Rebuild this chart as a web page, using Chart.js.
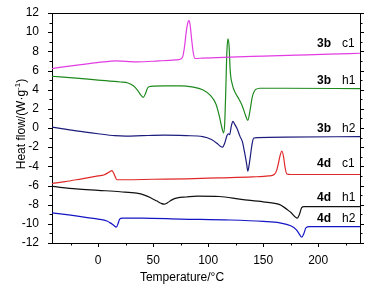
<!DOCTYPE html>
<html>
<head>
<meta charset="utf-8">
<script src="https://cdn.jsdelivr.net/npm/chart.js@4.4.1/dist/chart.umd.min.js"></script>
<style>
  html, body { margin: 0; padding: 0; background: #fff; }
  #wrap { width: 377px; height: 289px; }
</style>
</head>
<body>
<div id="wrap"><canvas id="dsc" width="377" height="289"></canvas></div>
<script>
// tick labels
const xTicks = [0, 50, 100, 150, 200];
const yTicks = [-12, -10, -8, -6, -4, -2, 0, 2, 4, 6, 8, 10, 12];

// 3b c1
const c1bX = [-42, -30, -10, 5, 15, 35, 55, 70, 75, 77, 78.5, 80, 81.5, 82.5, 83.5, 85, 86.5, 88, 95, 120, 150, 180, 210, 238];
const c1bY = [6.2, 6.4, 6.7, 6.9, 7.0, 6.9, 7.0, 7.1, 7.2, 7.5, 8.5, 10.0, 11.0, 11.2, 10.8, 9.2, 7.8, 7.25, 7.3, 7.4, 7.5, 7.6, 7.7, 7.8];

// 3b h1
const h1bX = [-42, -20, 0, 20, 27, 32, 36, 39, 41, 43, 45, 48, 60, 75, 85, 95, 102, 107, 110, 112.5, 114, 115, 116, 117, 118, 119, 120, 122, 125, 128, 131, 134, 136, 138, 140, 143, 147, 170, 238];
const h1bY = [5.4, 5.2, 5.0, 4.8, 4.7, 4.4, 3.9, 3.4, 3.2, 3.6, 4.2, 4.35, 4.4, 4.4, 4.3, 4.0, 3.4, 2.5, 1.3, 0.0, -0.5, 0.5, 4.0, 8.0, 9.3, 8.5, 6.0, 4.5, 3.6, 3.0, 2.3, 1.3, 0.8, 1.8, 3.2, 4.0, 4.15, 4.15, 4.1];

// 3b h2
const h2bX = [-42, -20, 0, 15, 25, 40, 60, 80, 95, 103, 108, 111, 113, 115, 117, 118.5, 119.5, 121, 122.5, 124, 126, 129, 131, 133, 135, 136, 137, 138.5, 140, 141.5, 145, 170, 238];
const h2bY = [0.1, -0.3, -0.6, -0.8, -0.85, -0.8, -0.75, -0.8, -0.9, -1.2, -1.6, -1.9, -2.0, -1.6, -0.8, -0.6, -0.7, 0.2, 0.7, 0.4, 0.0, -0.9, -1.4, -2.5, -3.8, -4.5, -4.0, -2.8, -1.6, -1.05, -1.0, -0.95, -0.9];

// 4d c1
const c1dX = [-42, -30, -15, 0, 5, 10, 12.5, 14, 15.5, 17, 25, 50, 80, 110, 140, 155, 160, 162, 164, 165.5, 167, 168.5, 170, 171.5, 175, 200, 238];
const c1dY = [-5.8, -5.6, -5.3, -5.0, -4.9, -4.6, -4.45, -4.7, -5.1, -5.4, -5.4, -5.35, -5.3, -5.2, -5.1, -5.0, -4.85, -4.5, -3.6, -2.8, -2.4, -3.0, -4.2, -4.8, -4.85, -4.85, -4.85];

// 4d h1
const h1dX = [-42, -20, 0, 20, 35, 42, 48, 53, 57, 60, 63, 67, 72, 80, 90, 110, 130, 150, 165, 175, 181, 183, 185, 187, 195, 238];
const h1dY = [-6.1, -6.35, -6.5, -6.65, -6.8, -7.0, -7.3, -7.6, -7.85, -7.95, -7.8, -7.5, -7.3, -7.2, -7.1, -7.15, -7.45, -7.7, -8.0, -8.8, -9.4, -9.0, -8.3, -8.2, -8.2, -8.2];

// 4d h2
const h2dX = [-42, -25, -10, 0, 8, 11, 14, 16.5, 18, 19.5, 22, 40, 75, 120, 150, 165, 175, 180, 183, 185, 187, 189, 192, 238];
const h2dY = [-8.85, -9.1, -9.35, -9.5, -9.7, -9.9, -10.15, -10.35, -10.0, -9.5, -9.4, -9.4, -9.5, -9.6, -9.75, -9.9, -10.2, -10.6, -11.1, -11.4, -11.0, -10.4, -10.3, -10.3];

const seriesX = [c1bX, h1bX, h2bX, c1dX, h1dX, h2dX];
const seriesY = [c1bY, h1bY, h2bY, c1dY, h1dY, h2dY];
const sampleNames = ['3b', '3b', '3b', '4d', '4d', '4d'];
const runNames = ['c1', 'h1', 'h2', 'c1', 'h1', 'h2'];
const labelY = [8.45, 4.6, -0.4, -4.1, -7.6, -9.8];
const colors = ['#e23ce2', '#1e8a1e', '#1c1c7c', '#e02828', '#111111', '#1414c4'];

const FONT = '"Liberation Sans", Arial, sans-serif';

const toPoints = (xs, ys) => xs.map((x, i) => ({ x, y: ys[i] }));

const frame = {
  id: 'frame',
  afterDraw(chart) {
    const { ctx, chartArea: a, scales: { x, y } } = chart;
    ctx.save();
    ctx.strokeStyle = '#000';
    ctx.lineWidth = 1;
    ctx.beginPath();
    ctx.moveTo(a.left, a.top + 0.5);
    ctx.lineTo(a.right + 0.5, a.top + 0.5);
    ctx.lineTo(a.right + 0.5, a.bottom);
    ctx.stroke();

    // ticks on y, major every 2, minor every 1
    for (let v = -12; v <= 12; v++) {
      const py = Math.round(y.getPixelForValue(v)) + 0.5;
      const len = v % 2 === 0 ? 4 : 2.5;
      ctx.beginPath();
      ctx.moveTo(a.left - len, py); ctx.lineTo(a.left, py);
      ctx.moveTo(a.right, py); ctx.lineTo(a.right + len, py);
      ctx.stroke();
    }
    // ticks on x, major every 50, minor every 25
    for (let v = -25; v <= 225; v += 25) {
      const px = Math.round(x.getPixelForValue(v)) + 0.5;
      const len = v % 50 === 0 ? 4 : 2.5;
      ctx.beginPath();
      ctx.moveTo(px, a.bottom); ctx.lineTo(px, a.bottom + len);
      ctx.stroke();
    }

    // curve labels
    ctx.fillStyle = '#000';
    ctx.textBaseline = 'alphabetic';
    sampleNames.forEach((s, i) => {
      const py = y.getPixelForValue(labelY[i]);
      ctx.font = 'bold 12px ' + FONT;
      ctx.textAlign = 'left';
      ctx.fillText(s, 317, py);
      ctx.font = '12px ' + FONT;
      ctx.fillText(runNames[i], 342, py);
    });

    // x title
    ctx.font = '12px ' + FONT;
    ctx.textAlign = 'center';
    ctx.fillText('Temperature/°C', 182, 281);

    // y title with superscript
    ctx.translate(25, 124);
    ctx.rotate(-Math.PI / 2);
    const main = 'Heat flow/(W·g';
    const sup = '-1';
    ctx.font = '12px ' + FONT;
    const wMain = ctx.measureText(main).width;
    const wClose = ctx.measureText(')').width;
    ctx.font = '8px ' + FONT;
    const wSup = ctx.measureText(sup).width;
    let start = -(wMain + wSup + wClose) / 2;
    ctx.textAlign = 'left';
    ctx.font = '12px ' + FONT;
    ctx.fillText(main, start, 0);
    ctx.font = '8px ' + FONT;
    ctx.fillText(sup, start + wMain, -5);
    ctx.font = '12px ' + FONT;
    ctx.fillText(')', start + wMain + wSup, 0);
    ctx.restore();
  }
};

new Chart(document.getElementById('dsc'), {
  type: 'line',
  data: {
    datasets: seriesX.map((xs, i) => ({
      label: sampleNames[i] + ' ' + runNames[i],
      data: toPoints(xs, seriesY[i]),
      borderColor: colors[i],
      borderWidth: 1.2,
      pointRadius: 0,
      fill: false,
      cubicInterpolationMode: 'monotone'
    }))
  },
  options: {
    responsive: false,
    animation: false,
    layout: { padding: { top: 13, right: 17, left: 0, bottom: 0 } },
    plugins: { legend: { display: false }, tooltip: { enabled: false } },
    scales: {
      x: {
        type: 'linear',
        min: -42,
        max: 238,
        afterBuildTicks: (s) => { s.ticks = xTicks.map(v => ({ value: v })); },
        afterFit: (s) => { s.height = 46; },
        grid: { display: false },
        border: { display: true, color: '#000', width: 1 },
        ticks: { color: '#000', font: { family: FONT, size: 12 }, padding: 2, maxRotation: 0 }
      },
      y: {
        min: -12,
        max: 12,
        afterBuildTicks: (s) => { s.ticks = yTicks.map(v => ({ value: v })); },
        afterFit: (s) => { s.width = 52; },
        grid: { display: false },
        border: { display: true, color: '#000', width: 1 },
        ticks: { color: '#000', font: { family: FONT, size: 12 }, padding: 5 }
      }
    }
  },
  plugins: [frame]
});
</script>
</body>
</html>
